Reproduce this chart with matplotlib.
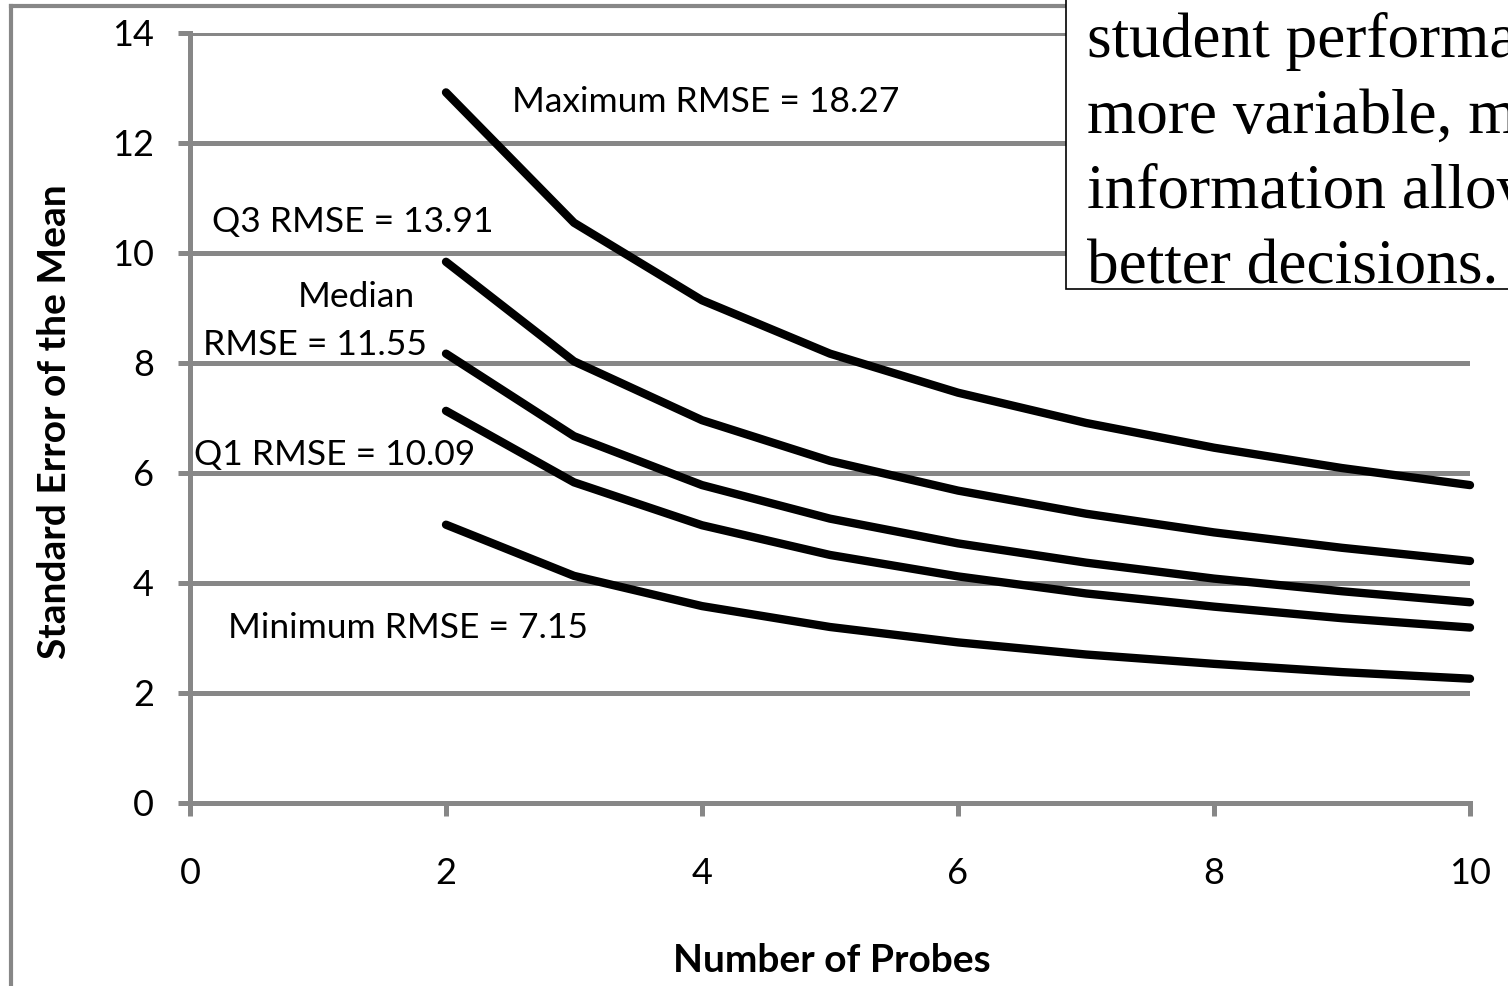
import matplotlib
matplotlib.use("Agg")
import matplotlib.pyplot as plt
from matplotlib.lines import Line2D
from matplotlib.patches import Rectangle

# ---- data ----
probes = [2, 3, 4, 5, 6, 7, 8, 9, 10]
max_se = [12.92, 10.55, 9.14, 8.17, 7.46, 6.91, 6.46, 6.09, 5.78]
q3_se = [9.84, 8.03, 6.96, 6.22, 5.68, 5.26, 4.92, 4.64, 4.40]
median_se = [8.17, 6.67, 5.78, 5.17, 4.72, 4.37, 4.08, 3.85, 3.65]
q1_se = [7.13, 5.83, 5.05, 4.51, 4.12, 3.81, 3.57, 3.36, 3.19]
min_se = [5.06, 4.13, 3.58, 3.20, 2.92, 2.70, 2.53, 2.38, 2.26]
series = [max_se, q3_se, median_se, q1_se, min_se]
x_ticks = [0, 2, 4, 6, 8, 10]
y_ticks = [0, 2, 4, 6, 8, 10, 12, 14]
box_lines = ["student performa", "more variable, m", "information allov", "better decisions."]

W, H = 1508, 986
GRAY = "#878787"
FONT = "Lato"

fig = plt.figure(figsize=(W / 100, H / 100), dpi=100)
fig.patch.set_facecolor("white")

def fx(px):
    return px / W

def fy(py):
    return 1 - py / H

ax = fig.add_axes([fx(190), fy(803), fx(1470) - fx(190), fy(33) - fy(803)])
ax.set_xlim(0, 10)
ax.set_ylim(0, 14)
ax.set_facecolor("none")

for s in series:
    ax.plot(probes, s, color="black", lw=6, solid_capstyle="round",
            solid_joinstyle="round", zorder=3, clip_on=False)

ax.set_xticks(x_ticks)
ax.set_yticks(y_ticks)
ax.set_xticklabels([str(v) for v in x_ticks], fontsize=26, fontfamily=FONT)
ax.set_yticklabels([str(v) for v in y_ticks], fontsize=26, fontfamily=FONT)
ax.tick_params(axis="x", direction="out", length=9, width=3.6, color=GRAY, pad=30)
ax.tick_params(axis="y", direction="out", length=9, width=3.6, color=GRAY, pad=17)
ax.yaxis.grid(True, color=GRAY, lw=3.6)
ax.set_axisbelow(True)
for side in ["top", "right"]:
    ax.spines[side].set_visible(False)
for side in ["left", "bottom"]:
    ax.spines[side].set_color(GRAY)
    ax.spines[side].set_linewidth(3.6)

ax.set_xlabel("Number of Probes", fontsize=28, fontweight="bold", fontfamily=FONT)
ax.set_ylabel("Standard Error of the Mean", fontsize=28, fontweight="bold", fontfamily=FONT)
ax.xaxis.label.set_va("center")
ax.yaxis.label.set_va("center")
ax.xaxis.set_label_coords((832 - 190) / 1280, (803 - 960) / 770)
ax.yaxis.set_label_coords((55 - 190) / 1280, (803 - 422) / 770)

lab_kw = dict(fontsize=25.5, fontfamily=FONT, ha="center", va="center", zorder=4)
ax.text(4.03, 12.75, "Maximum RMSE = 18.27", **lab_kw)
ax.text(1.27, 10.56, "Q3 RMSE = 13.91", **lab_kw)
ax.text(1.30, 9.20, "Median", **lab_kw)
ax.text(0.98, 8.33, "RMSE = 11.55", **lab_kw)
ax.text(1.13, 6.33, "Q1 RMSE = 10.09", **lab_kw)
ax.text(1.70, 3.18, "Minimum RMSE = 7.15", **lab_kw)

# outer chart border
fig.add_artist(Line2D([fx(11), fx(11)], [fy(6), fy(H + 10)], color=GRAY, lw=3, transform=fig.transFigure))
fig.add_artist(Line2D([fx(11), fx(W + 10)], [fy(6), fy(6)], color=GRAY, lw=3, transform=fig.transFigure))

# overlaid text box (cut off)
fig.add_artist(Rectangle((fx(1066), fy(289)), fx(W + 20) - fx(1066), fy(-20) - fy(289),
                         transform=fig.transFigure, facecolor="white", edgecolor="black",
                         lw=1.2, zorder=10))
baselines = [57, 133, 208, 283]
for txt, b in zip(box_lines, baselines):
    fig.text(fx(1087), fy(b), txt, fontsize=45.5, fontfamily="Liberation Serif",
             ha="left", va="baseline", zorder=11)

fig.savefig("out.png", dpi=100)
